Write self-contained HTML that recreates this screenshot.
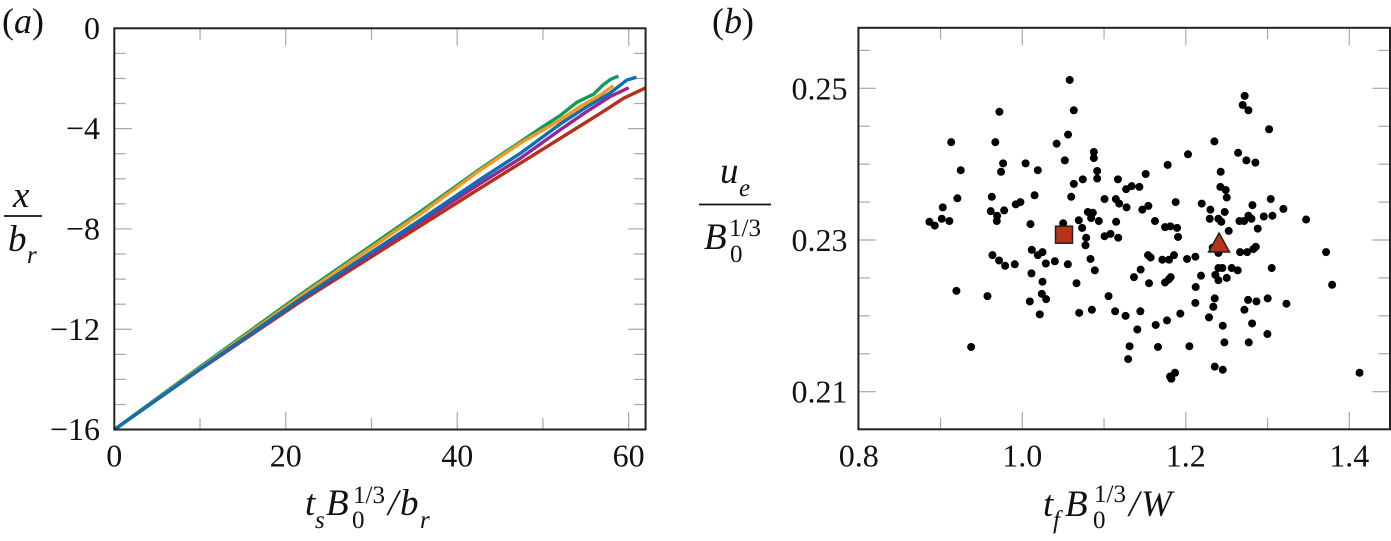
<!DOCTYPE html>
<html lang="en">
<head>
<meta charset="utf-8">
<title>Two panel chart</title>
<style>
html,body{margin:0;padding:0;background:#fff;width:1391px;height:541px;overflow:hidden}
svg{display:block}
text{font-family:"Liberation Serif",serif;fill:#111}
.tick{font-size:32px}
.lab{font-size:37px;font-style:italic}
.sub{font-size:25px;font-style:italic}
.sup{font-size:25px}
.pan{font-size:36px}
</style>
</head>
<body>
<svg id="fig" width="1391" height="541" viewBox="0 0 1391 541" xmlns="http://www.w3.org/2000/svg">
  <g id="gridless-a"></g>
  <g id="gridless-b"></g>

  <text class="pan" x="2" y="33">(<tspan font-style="italic">a</tspan>)</text>
  <text class="pan" x="712" y="33">(<tspan font-style="italic">b</tspan>)</text>

  <g>
    <text class="lab" x="13" y="207">x</text>
    <line x1="4" x2="42" y1="216" y2="216" stroke="#111" stroke-width="1.8"/>
    <text class="lab" x="8" y="251">b</text>
    <text class="sub" x="27" y="263">r</text>
  </g>
  <g>
    <text class="lab" x="305" y="515">t</text>
    <text class="sub" x="315" y="528">s</text>
    <text class="lab" x="326" y="515">B</text>
    <text class="sup" x="353" y="503">1/3</text>
    <text class="sup" x="352" y="528">0</text>
    <text class="lab" x="388" y="515" style="font-style:italic">/</text>
    <text class="lab" x="400" y="515">b</text>
    <text class="sub" x="420" y="528">r</text>
  </g>
  <g>
    <text class="lab" x="720" y="183">u</text>
    <text class="sub" x="739" y="196">e</text>
    <line x1="699" x2="771" y1="204.5" y2="204.5" stroke="#111" stroke-width="1.8"/>
    <text class="lab" x="704" y="249">B</text>
    <text class="sup" x="729" y="236">1/3</text>
    <text class="sup" x="730" y="262">0</text>
  </g>
  <g>
    <text class="lab" x="1043" y="516">t</text>
    <text class="sub" x="1053" y="528">f</text>
    <text class="lab" x="1065" y="516">B</text>
    <text class="sup" x="1094" y="502">1/3</text>
    <text class="sup" x="1093" y="528">0</text>
    <text class="lab" x="1129" y="516" style="font-style:italic">/</text>
    <text class="lab" x="1141" y="516">W</text>
  </g>
</svg>
<script>
// Panel (a) axis data
const aXTicks = [0, 10, 20, 30, 40, 50, 60];
const aXLabels = ["0", "20", "40", "60"];
const aYTicks = [0, -1, -2, -3, -4, -5, -6, -7, -8, -9, -10, -11, -12, -13, -14, -15, -16];
const aYLabels = ["0", "\u22124", "\u22128", "\u221212", "\u221216"];

// Panel (a) series
const greenT = [0, 10, 21.7, 35.7, 42.7, 50, 52, 53.95, 55.9, 57, 57.9, 58.8];
const greenX = [-16, -13.5, -10.62, -7.31, -5.6, -3.92, -3.48, -2.95, -2.63, -2.26, -2.03, -1.91];
const redT = [0, 10, 21.7, 35.7, 42.7, 52, 53.6, 56.7, 59.4, 62];
const redX = [-16, -13.6, -10.9, -7.88, -6.37, -4.39, -4.05, -3.39, -2.79, -2.37];
const purpleT = [0, 10, 21.7, 35.7, 42.7, 47.3, 52, 55.1, 57.8, 60];
const purpleX = [-16, -13.58, -10.84, -7.73, -6.18, -5.2, -4.05, -3.32, -2.73, -2.37];
const orangeT = [0, 10, 21.7, 35.7, 42.7, 47.3, 52, 54.3, 56.7, 58.2];
const orangeX = [-16, -13.55, -10.69, -7.4, -5.65, -4.59, -3.66, -3.13, -2.66, -2.29];
const blueT = [0, 10, 21.7, 35.7, 42.7, 47.3, 52, 55.1, 57.8, 59.8, 60.9];
const blueX = [-16, -13.58, -10.8, -7.64, -6.02, -5, -3.82, -3.13, -2.59, -2.06, -1.95];

// Panel (b) axis data
const bXTicks = [0.8, 0.9, 1.0, 1.1, 1.2, 1.3, 1.4];
const bXLabels = ["0.8", "1.0", "1.2", "1.4"];
const bYTicks = [0.255, 0.25, 0.245, 0.24, 0.235, 0.23, 0.225, 0.22, 0.215, 0.21];
const bYLabels = ["0.25", "0.23", "0.21"];

// Panel (b) scatter values
const scatterX = [1.058,1.063,.972,1.056,1.042,.913,.967,1.0875,1.0875,1.052,.9765,1.004,.9247,.974,1.019,1.0916,1.0916,1.074,1.063,1.117,1.127,.9627,1.015,1.0598,.9206,1.1006,1.1144,1.1185,1.1275,.9977,.992,.9027,.9614,.9778,1.0802,1.0863,1.0842,.9015,.8864,.8929,.9108,.9692,.9688,1.01,1.05,1.0691,1.0936,1.1148,1.0732,1.0781,1.1006,1.1079,1.1173,
1.272,1.2696,1.2766,1.3019,1.235,1.2027,1.264,1.2741,1.2851,1.1778,1.2427,1.1509,1.1338,1.1432,1.2423,1.2488,1.2501,1.3039,1.1876,1.2195,1.2815,1.2301,1.1542,1.1468,1.2476,1.3194,1.306,1.2954,1.2766,1.2803,1.2293,1.2399,1.2435,1.2656,1.2713,1.3472,1.1623,1.1746,1.1811,1.1893,1.288,1.2525,1.1905,
1.0773,1.0116,1.0247,1.019,.9635,.9716,.979,.9908,1.0288,1.0398,1.0557,1.0834,1.0887,1.0112,1.0247,1.0663,.9194,.9574,1.0239,1.0292,1.0092,1.1055,1.0214,1.0696,1.0851,1.1136,1.1263,.9374,1.1312,1.1295,
1.2329,1.2399,1.3716,1.2664,1.275,1.2827,1.2856,1.1538,1.157,1.1713,1.1795,1.1856,1.2015,1.2117,1.3051,1.2399,1.2448,1.2562,1.2635,1.1448,1.1366,1.155,1.1746,1.1791,1.1815,1.2186,1.2362,1.2399,1.2501,1.2121,1.379,1.2354,1.2117,1.2337,1.2762,1.2864,1.3002,1.3231,1.2717,1.1444,1.1933,1.2284,1.177,1.1632,1.1407,1.2452,1.2811,1.2998,1.166,1.2044,1.2472,1.277,1.2354,1.2452,1.1868,1.1807,1.1823,1.4125];
const scatterY = [.2511,.2471,.2469,.2439,.2427,.2429,.2429,.2416,.2408,.2405,.2401,.2401,.2392,.239,.2392,.2391,.2381,.238,.2374,.238,.2367,.2357,.2359,.2357,.2355,.2354,.2354,.2348,.2343,.235,.2347,.2343,.2338,.2339,.2337,.2336,.2329,.2328,.2324,.2319,.2325,.2332,.2325,.2321,.2322,.2326,.2325,.2324,.2316,.2303,.2305,.2308,.2303,
.249,.2478,.2471,.2446,.243,.2413,.2415,.2405,.2402,.2399,.239,.2387,.2371,.237,.237,.2366,.2356,.2354,.235,.2348,.2346,.234,.2345,.234,.2337,.2341,.2332,.2331,.2332,.2328,.2328,.2328,.2324,.2325,.2325,.2327,.2325,.2317,.2318,.2316,.2315,.2312,.2304,
.2293,.2287,.2284,.228,.228,.2273,.2266,.2268,.2269,.2272,.2268,.2275,.226,.2256,.2245,.2243,.2233,.2226,.2229,.2222,.2219,.2226,.2202,.2204,.2208,.2206,.22,.2159,.216,.2143,
.229,.2283,.2284,.2284,.2284,.2288,.2291,.228,.2277,.2274,.2274,.228,.2275,.2278,.2263,.2263,.2263,.2263,.226,.2261,.2251,.2243,.2244,.2248,.2251,.2253,.2254,.2247,.225,.2238,.2241,.2223,.2217,.2212,.2221,.2219,.2223,.2216,.2208,.2206,.2203,.2198,.2194,.2188,.2182,.2187,.219,.2176,.2159,.216,.2165,.2165,.2133,.2129,.2125,.212,.2117,.2125];
const squareX = [1.051];
const squareY = [0.2307];
const triangleX = [1.2407];
const triangleY = [0.2296];

// Axis functions
const xA = v => 114.3 + v * 8.573;
const yA = v => 28.3 - v * 25.08;
const xB = v => 1022.3 + (v - 1) * 817.5;
const yB = v => 240 - (v - 0.23) * 7585;

const NS = "http://www.w3.org/2000/svg";
function mk(parent, tag, attrs) {
  const el = document.createElementNS(NS, tag);
  for (const k in attrs) el.setAttribute(k, attrs[k]);
  parent.appendChild(el);
  return el;
}

function drawTicks(parent, box, xTicks, yTicks, xFn, yFn, isMajorX, isMajorY) {
  const minorLen = 11.5, majorLen = 17.5;
  xTicks.forEach((v, i) => {
    const len = isMajorX(i) ? majorLen : minorLen;
    const px = xFn(v);
    const bottom = mk(parent, "line", {x1: px, x2: px, y1: box.b, y2: box.b - len, stroke: "#a8a8a8", "stroke-width": 1.2});
    
    
    const top = mk(parent, "line", {x1: px, x2: px, y1: box.t, y2: box.t + len, stroke: "#a8a8a8", "stroke-width": 1.2});
    
    
  });
  yTicks.forEach((v, i) => {
    const len = isMajorY(i) ? majorLen : minorLen;
    const py = yFn(v);
    const left = mk(parent, "line", {x1: box.l, x2: box.l + len, y1: py, y2: py, stroke: "#a8a8a8", "stroke-width": 1.2});
    
    
    const right = mk(parent, "line", {x1: box.r, x2: box.r - len, y1: py, y2: py, stroke: "#a8a8a8", "stroke-width": 1.2});
    
    
  });
}

function drawFrame(parent, box) {
  const frame = mk(parent, "rect", {x: box.l, y: box.t, width: box.r - box.l, height: box.b - box.t, fill: "none", stroke: "#222", "stroke-width": 2});
  
  
}

function drawLabel(parent, x, y, text, anchor) {
  const t = mk(parent, "text", {x: x, y: y, "text-anchor": anchor, "class": "tick"});
  t.textContent = text;
  
  
}

// Panel (a)
const gA = document.getElementById("gridless-a");
const boxA = {l: 114.3, r: 645.6, t: 28.3, b: 429.5};
drawTicks(gA, boxA, aXTicks, aYTicks, xA, yA, i => i % 2 === 0, i => i % 4 === 0);
const seriesA = [
  ["series-green", greenT, greenX, "#0f9b5a"],
  ["series-red", redT, redX, "#b5301a"],
  ["series-purple", purpleT, purpleX, "#96278e"],
  ["series-orange", orangeT, orangeX, "#f7981d"],
  ["series-blue", blueT, blueX, "#0a70b5"]
];
seriesA.forEach(s => {
  const pts = s[1].map((t, i) => xA(t).toFixed(2) + "," + yA(s[2][i]).toFixed(2)).join(" ");
  const line = mk(gA, "polyline", {points: pts, fill: "none", stroke: s[3], "stroke-width": 3.4, "stroke-linejoin": "round", "stroke-linecap": "butt"});
  
  
});
drawFrame(gA, boxA);
aXLabels.forEach((lab, i) => drawLabel(gA, xA(aXTicks[i * 2]), 466.7, lab, "middle"));
aYLabels.forEach((lab, i) => drawLabel(gA, 100, yA(aYTicks[i * 4]) + 10.6, lab, "end"));

// Panel (b)
const gB = document.getElementById("gridless-b");
const boxB = {l: 858.4, r: 1390, t: 27.8, b: 429.3};
drawTicks(gB, boxB, bXTicks, bYTicks, xB, yB, i => i % 2 === 0, i => i % 4 === 1);
scatterX.forEach((x, i) => {
  const c = mk(gB, "circle", {cx: xB(x).toFixed(2), cy: yB(scatterY[i]).toFixed(2), r: 4, fill: "#000"});
  
  
});
squareX.forEach((x, i) => {
  const px = xB(x), py = yB(squareY[i]);
  const sq = mk(gB, "rect", {x: px - 8.5, y: py - 8.5, width: 17, height: 17, fill: "#b8321c", stroke: "#222", "stroke-width": 1.5});
  
  
});
triangleX.forEach((x, i) => {
  const px = xB(x), py = yB(triangleY[i]);
  const tri = mk(gB, "polygon", {points: [px, py - 10, px + 10.5, py + 9, px - 10.5, py + 9].join(" "), fill: "#b8321c", stroke: "#222", "stroke-width": 1.5, "stroke-linejoin": "miter"});
  
  
});
drawFrame(gB, boxB);
bXLabels.forEach((lab, i) => drawLabel(gB, xB(bXTicks[i * 2]), 466.7, lab, "middle"));
bYLabels.forEach((lab, i) => drawLabel(gB, 847.5, yB(bYTicks[1 + i * 4]) + 11, lab, "end"));
</script>
</body>
</html>
